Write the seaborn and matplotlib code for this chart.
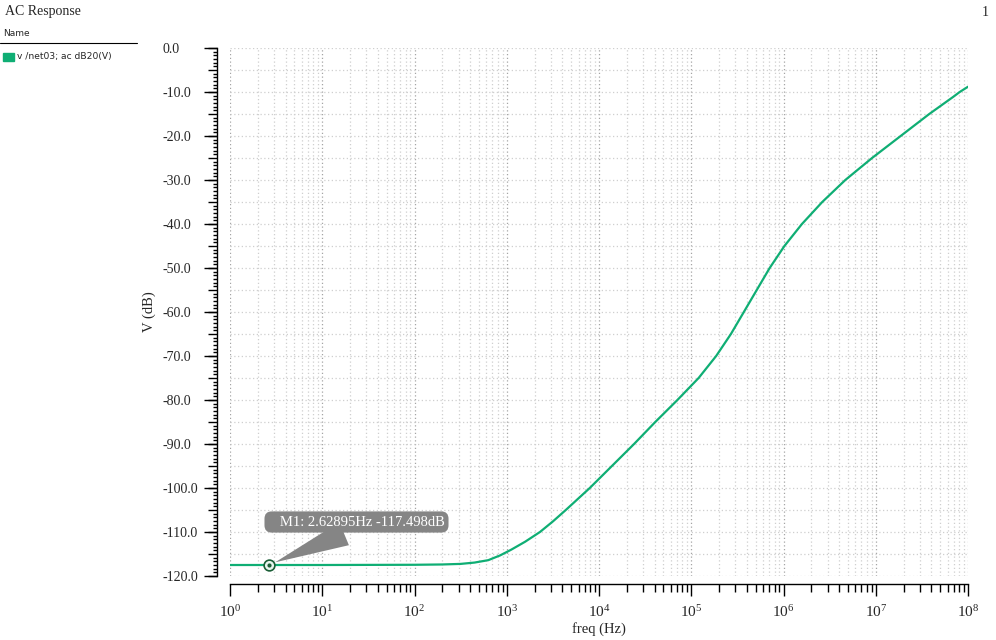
import numpy as np
import pandas as pd
import matplotlib
matplotlib.use("Agg")
import matplotlib.pyplot as plt
import seaborn as sns
from matplotlib.ticker import MultipleLocator, LogLocator, FuncFormatter, NullFormatter
from matplotlib.lines import Line2D
from matplotlib.patches import Rectangle

# ---------------- data ----------------
freq_hz = [1, 10, 100, 199.5, 316.2, 446.7, 631.0, 851.1, 1122, 1585, 2291, 3162,
           4365, 5888, 7943, 13804, 23988, 40738, 70795, 120226, 186209, 269153,
           371535, 512861, 707946, 1023293, 1584893, 2630268, 4677351, 9120108,
           18620871, 38018940, 69183097, 81283052, 100000000]
v_db = [-117.5, -117.5, -117.45, -117.38, -117.25, -116.95, -116.4, -115.3, -114.0,
        -112.2, -110.0, -107.6, -105.0, -102.5, -100.0, -95.0, -90.0, -85.0, -80.0,
        -75.0, -70.0, -65.0, -60.0, -55.0, -50.0, -45.0, -40.0, -35.0, -30.0, -25.0,
        -20.0, -15.0, -11.1, -10.0, -8.8]
series_name = "v /net03; ac dB20(V)"
marker_freq = 2.62895
marker_db = -117.498
marker_label = "M1: 2.62895Hz -117.498dB"
y_range = (-120, 0)
x_range = (1, 1e8)

GREEN = "#0fae74"
DARK_GREEN = "#1b5e36"
GRID_LIGHT = "#cfcfcf"
GRID_DARK = "#a5a5a5"
BOX_GRAY = "#858585"

sns.set_theme(style="white")
plt.rcParams['font.family'] = ['Liberation Serif', 'DejaVu Serif']
plt.rcParams['axes.unicode_minus'] = False

W, H = 996, 640
fig = plt.figure(figsize=(W / 100, H / 100), dpi=100)
ax = fig.add_axes([230 / W, (H - 576) / H, 738 / W, 528 / H])

df = pd.DataFrame({"freq": freq_hz, "db": v_db})
sns.lineplot(data=df, x="freq", y="db", ax=ax, color=GREEN, linewidth=1.6, zorder=3)

mk = pd.DataFrame({"freq": [marker_freq], "db": [marker_db]})
sns.scatterplot(data=mk, x="freq", y="db", ax=ax, marker="o", s=60,
                facecolor="#e8f5ee", edgecolor=DARK_GREEN, linewidth=1.2, zorder=5)
sns.scatterplot(data=mk, x="freq", y="db", ax=ax, marker="o", s=9,
                color=DARK_GREEN, edgecolor=DARK_GREEN, linewidth=0, zorder=6)

ax.set_xscale("log")
ax.set_xlim(*x_range)
ax.set_ylim(*y_range)
ax.set_facecolor("white")

# spines
sns.despine(ax=ax, offset={"left": 13 * 0.72, "bottom": 8 * 0.72})
for s in ("left", "bottom"):
    ax.spines[s].set_color("black")
    ax.spines[s].set_linewidth(1.0)

# y ticks
ax.yaxis.set_major_locator(MultipleLocator(5))
ax.yaxis.set_minor_locator(MultipleLocator(5 / 6))
ax.yaxis.set_major_formatter(FuncFormatter(lambda v, p: f"{v:.1f}" if abs(v % 10) < 1e-6 else ""))
ax.tick_params(axis="y", which="major", direction="out", length=9 * 0.72, width=1.0,
               color="black", labelsize=10, pad=46 * 0.72, left=True)
ax.tick_params(axis="y", which="minor", direction="out", length=4.3 * 0.72, width=1.0,
               color="black", left=True)
for lab in ax.get_yticklabels():
    lab.set_horizontalalignment("left")

sec = ax.secondary_yaxis(-13 / 738)
sec.spines["left"].set_visible(False)
sec.set_yticks(np.arange(y_range[0], y_range[1] + 1, 10))
sec.set_yticklabels([])
sec.tick_params(axis="y", which="major", length=12.7 * 0.72, width=1.0, color="black")

# x ticks
ax.xaxis.set_major_locator(LogLocator(base=10, numticks=20))
ax.xaxis.set_minor_locator(LogLocator(base=10, subs=np.arange(2, 10), numticks=100))
ax.xaxis.set_minor_formatter(NullFormatter())
ax.tick_params(axis="x", which="major", direction="out", length=12 * 0.72, width=1.0,
               color="black", labelsize=11, pad=8 * 0.72, bottom=True)
ax.tick_params(axis="x", which="minor", direction="out", length=8 * 0.72, width=1.0,
               color="black", bottom=True)

# grid
ax.grid(True, which="major", axis="y", color=GRID_LIGHT, linestyle=(0, (1, 2)), linewidth=0.9)
ax.grid(True, which="major", axis="x", color=GRID_DARK, linestyle=(0, (1, 2)), linewidth=0.9)
ax.grid(True, which="minor", axis="x", color=GRID_LIGHT, linestyle=(0, (1, 2)), linewidth=0.9)
ax.set_axisbelow(True)

# axis labels
ax.set_xlabel("freq (Hz)", fontsize=10.5)
ax.set_ylabel("V (dB)", fontsize=10.5)
ax.xaxis.set_label_coords(0.5, (576 - 622) / 528)
ax.xaxis.label.set_va("top")
ax.yaxis.set_label_coords((149 - 230) / 738, 0.5)
ax.yaxis.label.set_va("center")

# marker annotation
ax.annotate("   " + marker_label, xy=(marker_freq, marker_db),
            xytext=(356.5 / W, (H - 522) / H), textcoords="figure fraction",
            ha="center", va="center", color="white", fontsize=10.5,
            bbox=dict(boxstyle="round,pad=0.28,rounding_size=0.5", fc=BOX_GRAY, ec="none"),
            arrowprops=dict(arrowstyle="wedge,tail_width=0.6", mutation_scale=30,
                            fc=BOX_GRAY, ec="none", relpos=(0.5, 0.0), shrinkB=5),
            zorder=7)

# header / legend panel
fig.text(5 / W, 1 - 12 / H, "AC Response", ha="left", va="center", fontsize=10)
fig.text(985 / W, 1 - 12 / H, "1", ha="center", va="center", fontsize=10)
fig.text(3 / W, 1 - 33 / H, "Name", ha="left", va="center", fontsize=6.5,
         family=["DejaVu Sans"])
fig.add_artist(Line2D([0, 137 / W], [1 - 42.5 / H, 1 - 42.5 / H], color="black", linewidth=0.8))
fig.add_artist(Rectangle((3 / W, 1 - 61 / H), 11 / W, 8 / H, color=GREEN, transform=fig.transFigure))
fig.text(17 / W, 1 - 57 / H, series_name, ha="left", va="center", fontsize=6.6,
         family=["DejaVu Sans"])

fig.savefig("out.png", dpi=100, facecolor="white")
